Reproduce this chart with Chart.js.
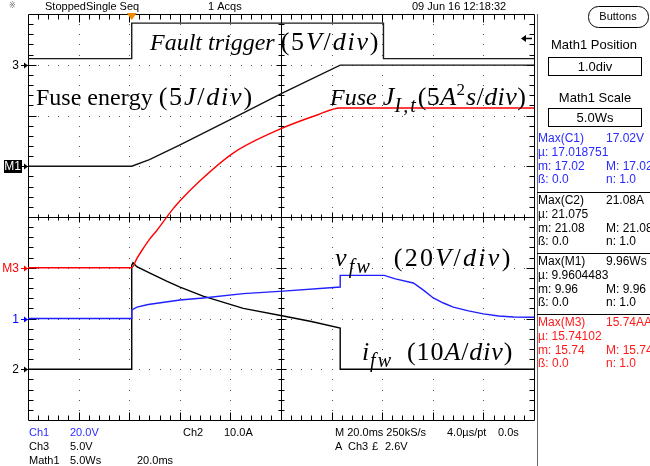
<!DOCTYPE html>
<html>
<head>
<meta charset="utf-8">
<script src="https://cdn.jsdelivr.net/npm/chart.js@4"></script>
<style>
  html, body { margin: 0; padding: 0; background: #fff; }
  canvas { display: block; }
</style>
</head>
<body>
<canvas id="scope" width="650" height="466"></canvas>
<script>
// time base 20 ms/div, 10 div across the screen (0..200 ms)
const ch1Time = [0, 41, 41, 43.1, 47.5, 60.1, 69.2, 85.1, 100.9, 123.4, 123.4, 140.8, 145.2, 152.3, 156.3, 160.2, 164.2, 168.1, 174.1, 180.0, 186.0, 191.9, 200];
const ch1Volts = [0, 0, 3.4, 4.5, 5.5, 7.3, 8.1, 9.8, 10.8, 12.4, 17.0, 17.0, 15.6, 14.0, 11.2, 8.1, 6.1, 4.5, 3.0, 1.8, 1.0, 0.6, 0.5];

const ch2Time = [0, 41, 41, 41.5, 43, 48, 55, 60.1, 69.2, 85.1, 100.9, 112, 123.4, 123.4, 200];
const ch2Amps = [0, 0, 20.5, 21.0, 20.2, 19.0, 17.3, 16.2, 14.4, 12.0, 10.5, 9.4, 8.1, 0, 0];

const ch3Time = [0, 41, 41, 140.5, 140.5, 200];
const ch3Volts = [0.6, 0.6, 4.1, 4.1, 0.6, 0.6];

const m1Time = [0, 41, 48, 60.1, 81.1, 100.5, 123.4, 200];
const m1Energy = [0, 0, 0.65, 2.1, 4.75, 7.2, 9.96, 9.96];

const m3Time = [0, 41, 43, 45, 48, 51, 57, 60.1, 68.1, 81.1, 100.5, 114.3, 123.4, 200];
const m3I2t = [0, 0, 0.9, 1.7, 2.8, 3.7, 5.7, 6.6, 8.6, 11.3, 13.75, 15.05, 15.74, 15.74];

// vertical settings: units per division and position (div)
const ch1Scale = 20, ch1Pos = -2;
const ch2Scale = 10, ch2Pos = -3;
const ch3Scale = 5, ch3Pos = 3;
const m1Scale = 5, m1Pos = 1;
const m3Scale = 5, m3Pos = -1;
const triggerTime = 41, triggerLevel = 2.6;

function toDiv(times, vals, scale, pos) {
  return times.map((t, i) => ({ x: t, y: pos + vals[i] / scale }));
}

const serif = '"Liberation Serif", "Times New Roman", serif';
const ui = '"Liberation Sans", Arial, sans-serif';

// t* = text font, m* = math font; r = roman, i = italic; numbers are extra gaps
const annotations = [
  { x: 150, y: 50, sp: 1.8, segs: [['Fault trigger ', 'ti'], ['(5', 'mr'], ['V', 'mi'], ['/', 'mr'], ['div', 'mi'], [')', 'mr']] },
  { x: 36, y: 105, sp: 1.8, segs: [['Fuse energy ', 'tr'], ['(5', 'mr'], ['J', 'mi'], ['/', 'mr'], ['div', 'mi'], [')', 'mr']] },
  { x: 330, y: 105, sp: 0.4, segs: [['Fuse ', 'ti'], ['J', 'mi'], ['I,t', 'mi', 'sub'], ['(5', 'mr'], ['A', 'mi'], ['2', 'mr', 'sup'], ['s', 'mi'], ['/', 'mr'], ['div', 'mi'], [')', 'mr']] },
  { x: 335, y: 266, sp: 2.3, segs: [['v', 'mi'], ['fw', 'mi', 'sub'], 22, ['(20', 'mr'], ['V', 'mi'], ['/', 'mr'], ['div', 'mi'], [')', 'mr']] },
  { x: 362, y: 360, sp: 0.9, segs: [['i', 'mi'], ['fw', 'mi', 'sub'], 14, ['(10', 'mr'], ['A', 'mi'], ['/', 'mr'], ['div', 'mi'], [')', 'mr']] }
];

function drawRich(ctx, x, y, segs, mathSp) {
  let cx = x;
  segs.forEach(seg => {
    if (typeof seg === 'number') { cx += seg; return; }
    const [t, st, pos] = seg;
    const math = st[0] === 'm';
    let size = math ? 26 : 24, sp = math ? mathSp : 0, dy = 0;
    if (pos === 'sub') { size = 20; sp = 2; dy = 7; }
    if (pos === 'sup') { size = 17; sp = 1; dy = -10; }
    ctx.font = (st[1] === 'i' ? 'italic ' : '') + size + 'px ' + serif;
    for (const ch of t) {
      ctx.fillText(ch, cx, y + dy);
      cx += ctx.measureText(ch).width + sp;
    }
  });
}

const graticule = {
  id: 'graticule',
  beforeDatasetsDraw(chart) {
    const ctx = chart.ctx;
    const { left, right, top, bottom } = chart.chartArea;
    const dx = (right - left) / 10, dy = (bottom - top) / 8;
    const cx = Math.round(left + 5 * dx) + 0.5, cy = Math.round(top + 4 * dy) + 0.5;
    ctx.save();
    ctx.fillStyle = '#555';
    for (let i = 1; i < 10; i++) {
      if (i === 5) continue;
      const x = Math.round(left + i * dx);
      for (let k = 1; k < 40; k++) ctx.fillRect(x, Math.round(top + k * dy / 5), 1, 1);
    }
    for (let j = 1; j < 8; j++) {
      if (j === 4) continue;
      const y = Math.round(top + j * dy);
      for (let k = 1; k < 50; k++) ctx.fillRect(Math.round(left + k * dx / 5), y, 1, 1);
    }
    ctx.strokeStyle = '#000';
    ctx.lineWidth = 1;
    ctx.beginPath();
    const L = Math.round(left) + 0.5, R = Math.round(right) + 0.5;
    const T = Math.round(top) + 0.5, B = Math.round(bottom) + 0.5;
    ctx.rect(L, T, R - L, B - T);
    ctx.moveTo(cx, T); ctx.lineTo(cx, B);
    ctx.moveTo(L, cy); ctx.lineTo(R, cy);
    // ticks on centre lines and border
    for (let k = 1; k < 50; k++) {
      const x = Math.round(left + k * dx / 5) + 0.5;
      const major = k % 5 === 0;
      const c = major ? 5 : 3;
      ctx.moveTo(x, cy - c); ctx.lineTo(x, cy + c);
      const b = major ? 8 : 5;
      ctx.moveTo(x, T); ctx.lineTo(x, T + b);
      ctx.moveTo(x, B); ctx.lineTo(x, B - b);
    }
    for (let k = 1; k < 40; k++) {
      const y = Math.round(top + k * dy / 5) + 0.5;
      const major = k % 5 === 0;
      const c = major ? 5 : 3;
      ctx.moveTo(cx - c, y); ctx.lineTo(cx + c, y);
      const b = major ? 8 : 5;
      ctx.moveTo(L, y); ctx.lineTo(L + b, y);
      ctx.moveTo(R, y); ctx.lineTo(R - b, y);
    }
    ctx.stroke();
    ctx.restore();
  },
  afterDraw(chart) {
    const ctx = chart.ctx;
    const { left, right, top } = chart.chartArea;
    const xs = chart.scales.x, ys = chart.scales.y;
    ctx.save();

    // annotations
    ctx.fillStyle = '#000';
    ctx.textBaseline = 'alphabetic';
    ctx.textAlign = 'left';
    annotations.forEach(a => drawRich(ctx, a.x, a.y, a.segs, a.sp));

    // channel ground markers
    const markers = [
      { label: '3', color: '#000', pos: ch3Pos },
      { label: 'M1', color: '#fff', box: '#000', pos: m1Pos },
      { label: 'M3', color: '#f00', pos: m3Pos },
      { label: '1', color: '#00f', pos: ch1Pos },
      { label: '2', color: '#000', pos: ch2Pos }
    ];
    ctx.font = '12px ' + ui;
    ctx.textBaseline = 'middle';
    markers.forEach(m => {
      const y = Math.round(ys.getPixelForValue(m.pos)) + 0.5;
      const arrowColor = m.box ? '#000' : m.color;
      ctx.textAlign = 'right';
      if (m.box) {
        ctx.fillStyle = m.box;
        ctx.fillRect(4, y - 6.5, 18, 13);
      }
      ctx.fillStyle = m.color;
      ctx.fillText(m.label, m.box ? 21 : 19, y + 0.5);
      ctx.strokeStyle = arrowColor;
      ctx.fillStyle = arrowColor;
      ctx.beginPath();
      ctx.moveTo(21, y); ctx.lineTo(left, y);
      ctx.stroke();
      ctx.beginPath();
      ctx.moveTo(left, y); ctx.lineTo(left - 4, y - 3); ctx.lineTo(left - 4, y + 3);
      ctx.closePath(); ctx.fill();
    });

    // trigger position and level markers
    const tx = xs.getPixelForValue(triggerTime);
    ctx.fillStyle = '#f08a00';
    ctx.beginPath();
    ctx.moveTo(tx - 5, top - 1); ctx.lineTo(tx + 5, top - 1); ctx.lineTo(tx, top + 6);
    ctx.closePath(); ctx.fill();
    const ty = Math.round(ys.getPixelForValue(ch3Pos + triggerLevel / ch3Scale)) + 0.5;
    ctx.strokeStyle = '#000';
    ctx.fillStyle = '#000';
    ctx.lineWidth = 1.5;
    ctx.beginPath(); ctx.moveTo(right - 2, ty); ctx.lineTo(right - 10, ty); ctx.stroke();
    ctx.beginPath(); ctx.moveTo(right - 13, ty); ctx.lineTo(right - 8, ty - 3.5); ctx.lineTo(right - 8, ty + 3.5);
    ctx.closePath(); ctx.fill();
    ctx.lineWidth = 1;

    // header
    ctx.textAlign = 'left';
    ctx.font = '11px ' + ui;
    ctx.fillStyle = '#000';
    ctx.fillText('StoppedSingle Seq', 45, 7);
    ctx.fillText('1 Acqs', 208, 7);
    ctx.fillText('09 Jun 16 12:18:32', 412, 7);
    ctx.fillStyle = '#777';
    ctx.font = '8px "DejaVu Sans", sans-serif';
    ctx.fillText('\u203B', 9, 6);

    // bottom readouts
    ctx.font = '11px ' + ui;
    const rows = [
      [[29, 'Ch1', '#2a2aff'], [70, '20.0V', '#2a2aff'], [183, 'Ch2'], [224, '10.0A'], [335, 'M 20.0ms 250kS/s'], [447, '4.0\u00B5s/pt'], [498, '0.0s']],
      [[29, 'Ch3'], [70, '5.0V'], [335, 'A'], [348, 'Ch3'], [372, '\u00A3'], [385, '2.6V']],
      [[29, 'Math1'], [70, '5.0Ws'], [137, '20.0ms']]
    ];
    rows.forEach((r, i) => {
      r.forEach(([x, t, c]) => {
        ctx.fillStyle = c || '#000';
        ctx.fillText(t, x, 433 + i * 14);
      });
    });

    // right panel
    ctx.strokeStyle = '#666';
    ctx.beginPath(); ctx.moveTo(537.5, 14); ctx.lineTo(537.5, 466); ctx.stroke();
    ctx.strokeStyle = '#000';
    ctx.beginPath();
    ctx.moveTo(600, 6.5); ctx.arcTo(648.5, 6.5, 648.5, 27.5, 10); ctx.arcTo(648.5, 27.5, 588, 27.5, 10);
    ctx.arcTo(588.5, 27.5, 588.5, 6.5, 10); ctx.arcTo(588.5, 6.5, 648, 6.5, 10); ctx.closePath();
    ctx.stroke();
    ctx.fillStyle = '#000';
    ctx.textAlign = 'center';
    ctx.fillText('Buttons', 618, 17);
    ctx.font = '13px ' + ui;
    ctx.fillText('Math1 Position', 594, 45);
    ctx.strokeRect(548.5, 57.5, 93, 18);
    ctx.fillText('1.0div', 595, 67);
    ctx.fillText('Math1 Scale', 595, 98);
    ctx.strokeRect(548.5, 108.5, 93, 18);
    ctx.fillText('5.0Ws', 595, 118);

    const meas = [
      { c: '#2a2aff', y: 139, rows: [['Max(C1)', '17.02V'], ['\u00B5: 17.018751'], ['m: 17.02', 'M: 17.02'], ['\u00DF: 0.0', 'n: 1.0']] },
      { c: '#000', y: 201, rows: [['Max(C2)', '21.08A'], ['\u00B5: 21.075'], ['m: 21.08', 'M: 21.08'], ['\u00DF: 0.0', 'n: 1.0']] },
      { c: '#000', y: 262, rows: [['Max(M1)', '9.96Ws'], ['\u00B5: 9.9604483'], ['m: 9.96', 'M: 9.96'], ['\u00DF: 0.0', 'n: 1.0']] },
      { c: '#ff1a1a', y: 323, rows: [['Max(M3)', '15.74AAs'], ['\u00B5: 15.74102'], ['m: 15.74', 'M: 15.74'], ['\u00DF: 0.0', 'n: 1.0']] }
    ];
    ctx.textAlign = 'left';
    ctx.font = '12px ' + ui;
    meas.forEach(m => {
      ctx.fillStyle = m.c;
      m.rows.forEach((r, i) => {
        ctx.fillText(r[0], 538, m.y + i * 13.7);
        if (r[1]) ctx.fillText(r[1], 606, m.y + i * 13.7);
      });
    });
    ctx.strokeStyle = '#000';
    [192.5, 253.5, 314.5].forEach(y => {
      ctx.beginPath(); ctx.moveTo(537, y); ctx.lineTo(650, y); ctx.stroke();
    });
    ctx.restore();
  }
};

const chart = new Chart(document.getElementById('scope').getContext('2d'), {
  type: 'line',
  data: {
    datasets: [
      { label: 'Ch3', data: toDiv(ch3Time, ch3Volts, ch3Scale, ch3Pos), borderColor: '#1a1a1a' },
      { label: 'Math1', data: toDiv(m1Time, m1Energy, m1Scale, m1Pos), borderColor: '#111' },
      { label: 'Math3', data: toDiv(m3Time, m3I2t, m3Scale, m3Pos), borderColor: '#ff0000', cubicInterpolationMode: 'monotone' },
      { label: 'Ch1', data: toDiv(ch1Time, ch1Volts, ch1Scale, ch1Pos), borderColor: '#1f1fff' },
      { label: 'Ch2', data: toDiv(ch2Time, ch2Amps, ch2Scale, ch2Pos), borderColor: '#000' }
    ]
  },
  options: {
    responsive: false,
    animation: false,
    layout: { padding: { left: 28, top: 14, right: 116, bottom: 46 } },
    scales: {
      x: { type: 'linear', min: 0, max: 200, display: false },
      y: { type: 'linear', min: -4, max: 4, display: false }
    },
    elements: {
      point: { radius: 0 },
      line: { borderWidth: 1.4, tension: 0 }
    },
    plugins: {
      legend: { display: false },
      tooltip: { enabled: false }
    }
  },
  plugins: [graticule]
});
</script>
</body>
</html>
